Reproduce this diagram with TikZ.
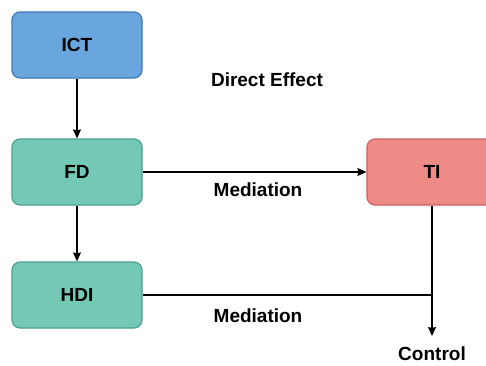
\documentclass[tikz,border=0pt]{standalone}
\usepackage{fontspec}
\setmainfont{Liberation Sans}
\usepackage{tikz}
\usetikzlibrary{calc}
\usetikzlibrary{arrows.meta}
\usetikzlibrary{positioning}
\definecolor{color_ict}{HTML}{6aa6de}
\definecolor{color_ict_line}{HTML}{3e79b6}
\definecolor{color_fd}{HTML}{74c8b6}
\definecolor{color_fd_line}{HTML}{4c9f8c}
\definecolor{color_ti}{HTML}{ee8b86}
\definecolor{color_ti_line}{HTML}{cd605c}

\begin{document}
\begin{tikzpicture}[node distance=127pt, align=center, font=\fontsize{19}{21}\selectfont\bfseries]
  \tikzset{ % Specifications for style of nodes:
      head/.style = {inner sep=0pt, text centered},
      base/.style = {rectangle, rounded corners=8pt, line width=1.2pt, minimum width=130pt, minimum height=66pt, text centered},
      ict/.style = {base, draw=color_ict_line, fill=color_ict},
      fd/.style = {base, draw=color_fd_line, fill=color_fd},
      ti/.style = {base, draw=color_ti_line, fill=color_ti},
      link/.style = {line width=1.3pt, -{Stealth[length=9pt, width=8pt, inset=1pt]}},
  }
  \useasboundingbox (0pt,0pt) rectangle (486pt,-365pt);
  \node (ict) [ict] at (77pt,-45pt) {ICT};
  \node (fd) [fd, below of=ict] {FD};
  \node (hdi) [fd, below of=fd, yshift=4pt] {HDI};
  \node (ti) [ti, right of=fd, xshift=228pt] {TI};

  \node (direct) [head] at (267pt,-80pt) {Direct Effect};
  \node (med1) [head] at (258pt,-190pt) {Mediation};
  \node (med2) [head] at (258pt,-316pt) {Mediation};
  \node (control) [head] at (432pt,-354pt) {Control};
  \coordinate (end) at (ti.south |- 0,-336pt);

  \draw[link] (ict) -- (fd);
  \draw[link] (fd) -- (hdi);
  \draw[link] (fd) -- (ti);
  \draw[link] (ti) -- (end);
  \draw[line width=1.3pt] (hdi.east) -- (hdi.east -| end);
\end{tikzpicture}
\end{document}
